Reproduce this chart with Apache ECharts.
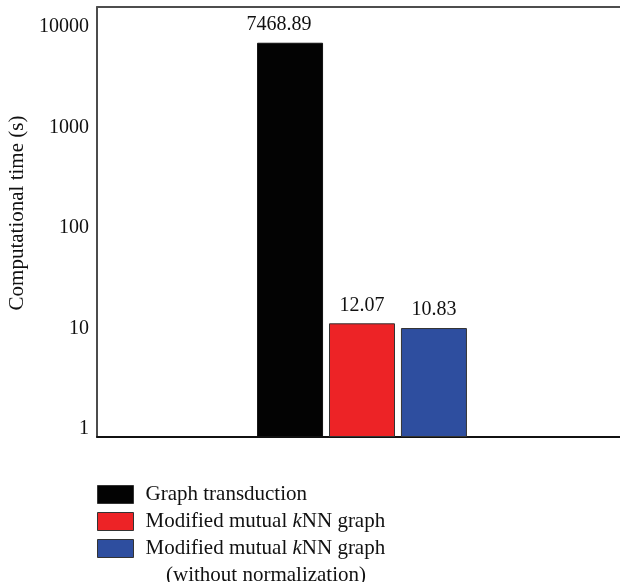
<!DOCTYPE html>
<html>
<head>
<meta charset="utf-8">
<script src="https://cdn.jsdelivr.net/npm/echarts@6/dist/echarts.min.js"></script>
<style>
  html, body { margin: 0; padding: 0; background: #fff; }
  #main { width: 620px; height: 582px; }
</style>
</head>
<body>
<div id="main"></div>
<script>
  // data
  var categories = [''];
  var seriesNames = ['Graph transduction', 'Modified mutual kNN graph', 'Modified mutual kNN graph (without normalization)'];
  var seriesValues = [7468.89, 12.07, 10.83];
  var seriesColors = ['#030303', '#ED2326', '#2E4E9F'];
  var yTicks = [1, 10, 100, 1000, 10000];

  var font = 'Liberation Serif';

  var series = seriesNames.map(function (name, i) {
    return {
      name: name,
      type: 'bar',
      barWidth: 66,
      barGap: '9%',
      itemStyle: {
        color: seriesColors[i],
        borderColor: i === 0 ? '#111' : '#333',
        borderWidth: 1
      },
      label: {
        show: true,
        position: 'top',
        distance: 8,
        offset: i === 0 ? [-11, 0] : [0, 0],
        color: '#111',
        fontFamily: font,
        fontSize: 20,
        formatter: function (p) { return p.value.toFixed(2); }
      },
      data: [seriesValues[i]]
    };
  });

  var option = {
    animation: false,
    grid: { left: 97, right: -7, top: 7, bottom: 145, outerBoundsMode: 'none' },
    legend: {
      orient: 'vertical',
      left: 92,
      top: 479,
      itemWidth: 36,
      itemHeight: 18,
      itemGap: 6,
      icon: 'rect',
      itemStyle: { borderColor: '#333', borderWidth: 1 },
      textStyle: {
        fontFamily: font,
        fontSize: 21,
        color: '#111',
        padding: [0, 0, 0, 7],
        rich: {
          i: { fontFamily: font, fontSize: 21, fontStyle: 'italic', color: '#111' }
        }
      },
      formatter: function (name) {
        // kNN with italic k, second line is drawn separately
        return name.replace(' (without normalization)', '').replace('kNN', '{i|k}NN');
      },
      data: seriesNames
    },
    graphic: [{
      type: 'text',
      left: 166,
      top: 565,
      style: { text: '(without normalization)', font: '21px "Liberation Serif"', fill: '#111' }
    }],
    xAxis: [{
      type: 'category',
      data: categories,
      axisLine: { lineStyle: { color: '#111', width: 2 } },
      axisTick: { show: false },
      axisLabel: { show: false }
    }, {
      type: 'category',
      position: 'top',
      data: categories,
      axisLine: { lineStyle: { color: '#4d4d4d', width: 2 } },
      axisTick: { show: false },
      axisLabel: { show: false }
    }],
    yAxis: {
      type: 'log',
      logBase: 10,
      min: 0.892,
      max: 16940,
      startValue: 0.892,
      name: 'Computational time (s)',
      nameLocation: 'middle',
      nameGap: 68,
      nameTextStyle: { fontFamily: font, fontSize: 21, color: '#111', padding: [0, 0, 0, 18] },
      axisLine: { show: true, lineStyle: { color: '#111', width: 1.5 } },
      axisTick: { show: false },
      splitLine: { show: false },
      axisLabel: {
        margin: 8,
        fontFamily: font,
        fontSize: 20,
        color: '#111',
        verticalAlign: 'bottom',
        lineHeight: 6,
        formatter: function (v) {
          for (var k = 0; k < yTicks.length; k++) {
            if (Math.abs(v - yTicks[k]) < 1e-6 * yTicks[k]) return String(yTicks[k]);
          }
          return '';
        }
      }
    },
    series: series
  };

  var myChart = echarts.init(document.getElementById('main'));
  myChart.setOption(option);
  window.addEventListener('resize', function () {
    myChart.resize();
  });
</script>
</body>
</html>
